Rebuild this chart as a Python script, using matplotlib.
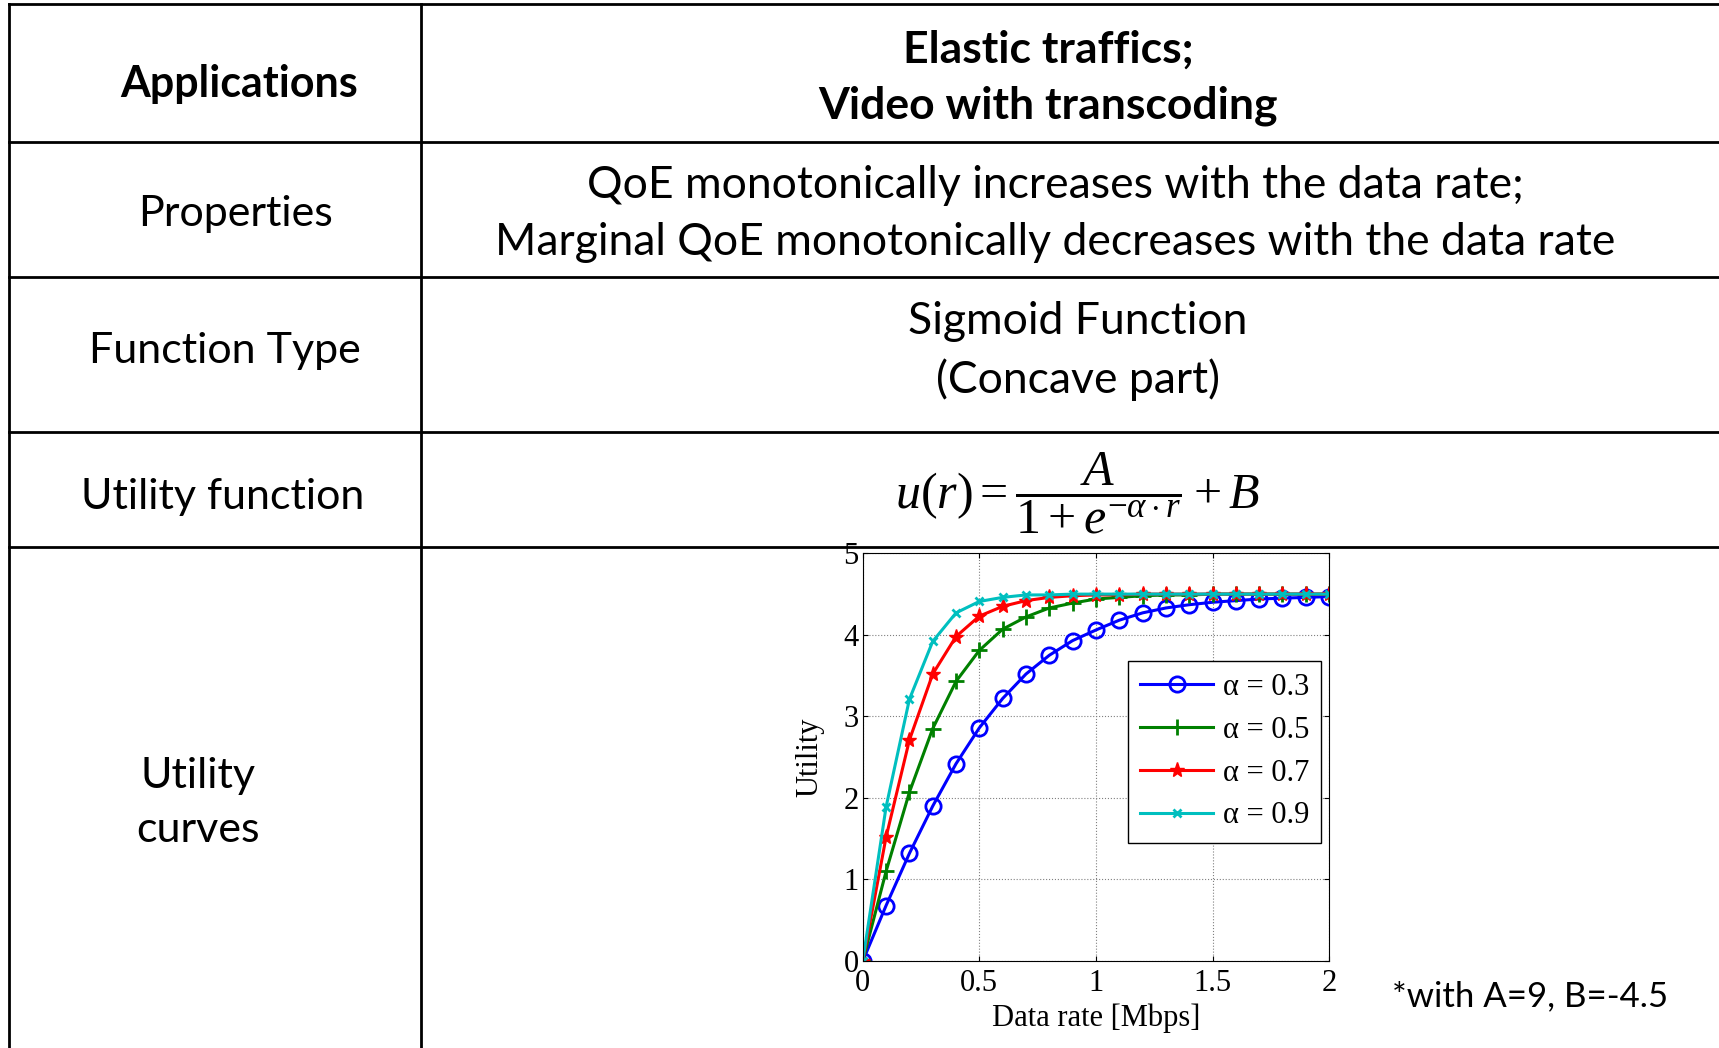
import matplotlib
matplotlib.use("Agg")
import matplotlib.pyplot as plt

W, H = 1719, 1048

# data
rate = [0.0, 0.1, 0.2, 0.3, 0.4, 0.5, 0.6, 0.7, 0.8, 0.9, 1.0,
        1.1, 1.2, 1.3, 1.4, 1.5, 1.6, 1.7, 1.8, 1.9, 2.0]
u_03 = [0.0, 0.68, 1.32, 1.90, 2.42, 2.86, 3.22, 3.52, 3.75, 3.93, 4.06,
        4.18, 4.27, 4.33, 4.37, 4.40, 4.42, 4.44, 4.45, 4.46, 4.47]
u_05 = [0.0, 1.10, 2.07, 2.85, 3.43, 3.81, 4.07, 4.22, 4.33, 4.39, 4.44,
        4.46, 4.48, 4.49, 4.49, 4.50, 4.50, 4.50, 4.50, 4.50, 4.50]
u_07 = [0.0, 1.52, 2.71, 3.52, 3.98, 4.23, 4.35, 4.42, 4.46, 4.48, 4.49,
        4.49, 4.50, 4.50, 4.50, 4.50, 4.50, 4.50, 4.50, 4.50, 4.50]
u_09 = [0.0, 1.89, 3.21, 3.92, 4.27, 4.41, 4.46, 4.49, 4.49, 4.50, 4.50,
        4.50, 4.50, 4.50, 4.50, 4.50, 4.50, 4.50, 4.50, 4.50, 4.50]
labels = ['α = 0.3', 'α = 0.5', 'α = 0.7', 'α = 0.9']

row_names = ['Applications', 'Properties', 'Function Type', 'Utility function', 'Utility\ncurves']
row_text = ['Elastic traffics;\nVideo with transcoding',
            'QoE monotonically increases with the data rate;\nMarginal QoE monotonically decreases with the data rate',
            'Sigmoid Function\n(Concave part)']

fig = plt.figure(figsize=(W / 100, H / 100), dpi=100)
plt.rcParams['mathtext.fontset'] = 'custom'
plt.rcParams['mathtext.rm'] = 'Liberation Serif'
plt.rcParams['mathtext.it'] = 'Liberation Serif:italic'

# table drawn in pixel coords
bg = fig.add_axes([0, 0, 1, 1])
bg.set_xlim(0, W)
bg.set_ylim(H, 0)
bg.axis('off')
for y in [4, 142, 277, 432, 547]:
    bg.plot([9, W], [y, y], color='black', lw=2)
for x in [9, 421]:
    bg.plot([x, x], [4, H], color='black', lw=2)

sans = 'Lato'
name_pos = [(239, 84), (236, 214), (225, 351), (223, 497), (198, 803)]
for (x, y), name in zip(name_pos, row_names):
    bg.text(x, y, name, ha='center', va='center', fontsize=31, family=sans,
            fontweight='bold' if name == 'Applications' else 'normal', linespacing=1.5)
text_pos = [(1048, 78), (1055, 214), (1078, 351)]
for (x, y), t in zip(text_pos, row_text):
    bg.text(x, y, t, ha='center', va='center', fontsize=32, family=sans,
            fontweight='bold' if t.startswith('Elastic') else 'normal', linespacing=1.48)

bg.text(1078, 493, r'$u(r)=\dfrac{A}{1+e^{-\alpha\cdot r}}+B$',
        ha='center', va='center', fontsize=36)
bg.text(1530, 996, '*with A=9, B=-4.5', ha='center', va='center', fontsize=25, family=sans)

# utility curves
ax = fig.add_axes([0.5019, 0.0830, 0.2713, 0.3890])
serif = 'Liberation Serif'
ax.plot(rate, u_03, color='blue', lw=2.2, marker='o', ms=11, mfc='none', mew=2, label=labels[0])
ax.plot(rate, u_05, color='green', lw=2.2, marker='+', ms=12, mew=2, label=labels[1])
ax.plot(rate, u_07, color='red', lw=2.2, marker='*', ms=11, label=labels[2])
ax.plot(rate, u_09, color='#00bfbf', lw=2.2, marker='x', ms=6, mew=2, label=labels[3])
ax.set_xlim(0, 2)
ax.set_ylim(0, 5)
ax.set_xticks([0, 0.5, 1, 1.5, 2])
ax.set_xticklabels(['0', '0.5', '1', '1.5', '2'])
ax.set_yticks([0, 1, 2, 3, 4, 5])
ax.grid(True, linestyle=':', color='gray', lw=0.8)
ax.tick_params(direction='in', top=True, right=True, labelsize=22)
ax.tick_params(axis='x', pad=6)
ax.tick_params(axis='y', pad=3)
for lab in ax.get_xticklabels() + ax.get_yticklabels():
    lab.set_family(serif)
ax.set_xlabel('Data rate [Mbps]', fontsize=22, family=serif, labelpad=4)
ax.set_ylabel('Utility', fontsize=22, family=serif, labelpad=14)
leg = ax.legend(loc='upper right', bbox_to_anchor=(0.983, 0.736), fancybox=False,
                edgecolor='black', framealpha=1, handlelength=2.4,
                prop={'family': serif, 'size': 22}, borderaxespad=0,
                labelspacing=0.45, handletextpad=0.3, borderpad=0.4)
leg.get_frame().set_linewidth(1)

fig.savefig('out.png', dpi=100)
